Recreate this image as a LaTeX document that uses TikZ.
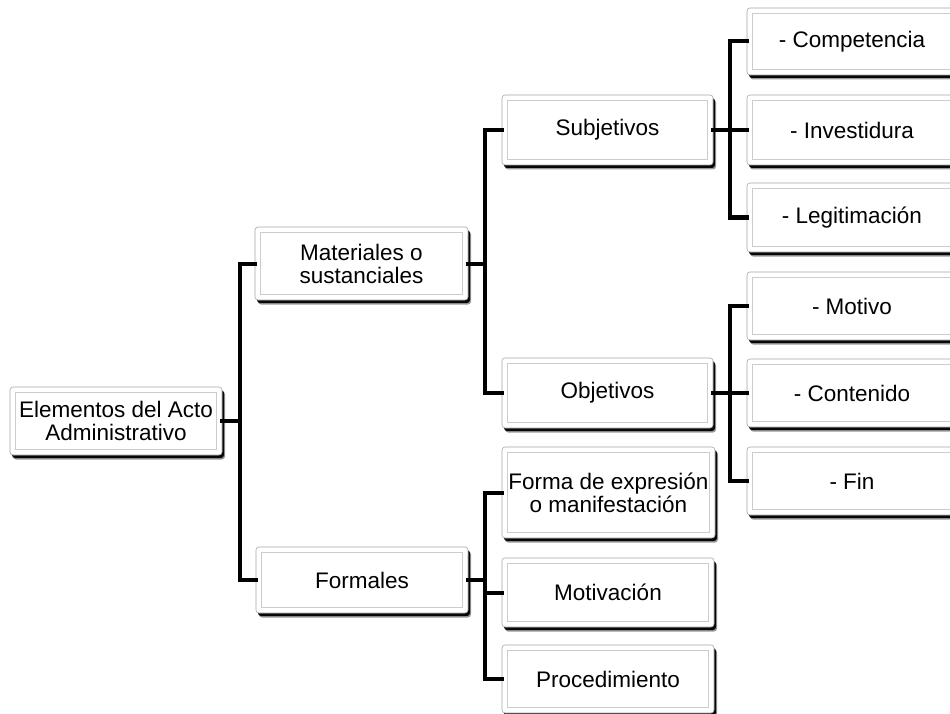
\documentclass[tikz,border=0pt]{standalone}
\usepackage{fontspec}
\setmainfont{Liberation Sans}
\usetikzlibrary{positioning,calc,shadows}

\begin{document}
\begin{tikzpicture}[x=1pt, y=-1pt,
		caja/.style={draw=gray!70, fill=white, rounded corners=3pt, line width=0.6pt, inner sep=0pt, align=center,
			drop shadow={shadow xshift=3pt, shadow yshift=-4.5pt, fill=black, opacity=0.4},
			drop shadow={shadow xshift=2pt, shadow yshift=-3pt, fill=black, opacity=0.95},
			font=\fontsize{22.5}{23}\selectfont},
		enlace/.style={line width=4pt, line cap=rect}]
				\clip (0,0) rectangle (950,714);
				\fill[white] (0,0) rectangle (950,714);
				% primer nivel
				\node[caja, minimum width=212, minimum height=68] (elem) at (116,421) {Elementos del Acto\\Administrativo};
				\node[caja, minimum width=213, minimum height=73] (mat) at (361.5,263.5) {Materiales o\\sustanciales};
				\node[caja, minimum width=212, minimum height=66] (form) at (362,580) {Formales};
				% segundo nivel
				\node[caja, minimum width=211, minimum height=70] (subj) at (607.5,130) {Subjetivos};
				\node[caja, minimum width=211, minimum height=70] (obj) at (607.5,393) {Objetivos};
				\node[caja, minimum width=213, minimum height=91] (expr) at (608.5,492.5) {Forma de expresión\\o manifestación};
				\node[caja, minimum width=212, minimum height=69] (motiv) at (608,592.5) {Motivación};
				\node[caja, minimum width=212, minimum height=68] (proc) at (608,679) {Procedimiento};
				% tercer nivel
				\node[caja, minimum width=210, minimum height=67] (comp) at (852,41.5) {- Competencia};
				\node[caja, minimum width=210, minimum height=70] (inv) at (852,130) {- Investidura};
				\node[caja, minimum width=210, minimum height=69] (legit) at (852,217.5) {- Legitimación};
				\node[caja, minimum width=210, minimum height=68] (motivo) at (852,306) {- Motivo};
				\node[caja, minimum width=210, minimum height=68] (cont) at (852,393) {- Contenido};
				\node[caja, minimum width=210, minimum height=68] (fin) at (852,481) {- Fin};
				% marco interior
				\foreach \n in {elem,mat,form,subj,obj,expr,motiv,proc,comp,inv,legit,motivo,cont,fin}
					\draw[gray!40, line width=0.6pt] ([shift={(6pt,-6pt)}]\n.north west) rectangle ([shift={(-6pt,6pt)}]\n.south east);
				% enlaces
				\draw[enlace] (elem.east) -- ++(18,0) |- (mat.west);
				\draw[enlace] (elem.east) -- ++(18,0) |- (form.west);
				\draw[enlace] (mat.east) -- ++(17,0) |- (subj.west);
				\draw[enlace] (mat.east) -- ++(17,0) |- (obj.west);
				\draw[enlace] (form.east) -- ++(17,0) |- (expr.west);
				\draw[enlace] (form.east) -- ++(17,0) |- (motiv.west);
				\draw[enlace] (form.east) -- ++(17,0) |- (proc.west);
				\draw[enlace] (subj.east) -- ++(17,0) |- (comp.west);
				\draw[enlace] (subj.east) -- ++(17,0) |- (inv.west);
				\draw[enlace] (subj.east) -- ++(17,0) |- (legit.west);
				\draw[enlace] (obj.east) -- ++(17,0) |- (motivo.west);
				\draw[enlace] (obj.east) -- ++(17,0) |- (cont.west);
				\draw[enlace] (obj.east) -- ++(17,0) |- (fin.west);
			\end{tikzpicture}
\end{document}
